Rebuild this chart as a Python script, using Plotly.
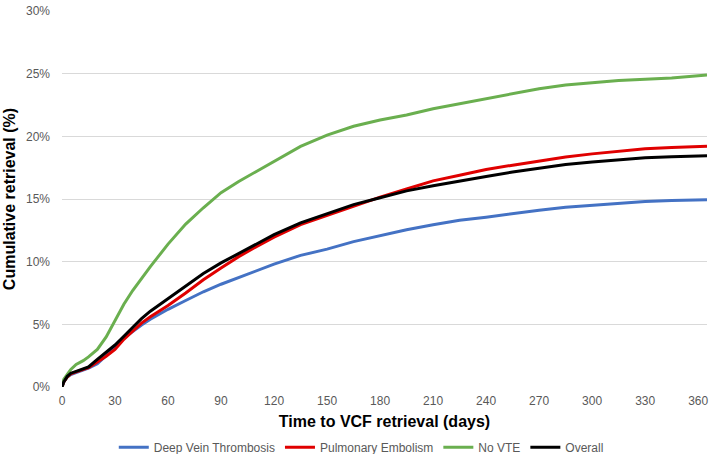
import plotly.graph_objects as go

# Days since VCF placement
days = [0, 1, 3, 5, 8, 12, 15, 20, 25, 30, 35, 40, 45, 50, 55, 60, 70, 80, 90,
        100, 110, 120, 135, 150, 165, 180, 195, 210, 225, 240, 255, 270, 285,
        300, 315, 330, 345, 365]

# Cumulative retrieval (%) per group
dvt = [0, 0.4, 0.8, 1.0, 1.15, 1.35, 1.5, 1.85, 2.5, 3.15, 3.9, 4.45, 4.95, 5.4,
       5.8, 6.2, 6.9, 7.6, 8.2, 8.75, 9.3, 9.8, 10.5, 11.0, 11.6, 12.1, 12.55,
       12.95, 13.3, 13.55, 13.85, 14.1, 14.35, 14.5, 14.65, 14.8, 14.88, 14.95]
pe = [0, 0.4, 0.8, 1.05, 1.2, 1.4, 1.55, 2.0, 2.45, 3.0, 3.8, 4.45, 5.1, 5.6,
      6.05, 6.5, 7.5, 8.55, 9.5, 10.4, 11.2, 11.95, 12.95, 13.7, 14.4, 15.15,
      15.8, 16.45, 16.9, 17.35, 17.7, 18.05, 18.35, 18.6, 18.8, 19.0, 19.1, 19.2]
no_vte = [0, 0.6, 1.0, 1.4, 1.8, 2.1, 2.4, 3.0, 4.0, 5.3, 6.6, 7.7, 8.7, 9.6,
          10.5, 11.4, 13.0, 14.3, 15.5, 16.4, 17.2, 18.0, 19.2, 20.1, 20.8, 21.3,
          21.7, 22.2, 22.6, 23.05, 23.4, 23.8, 24.1, 24.3, 24.45, 24.55, 24.65, 24.9]
overall = [0, 0.4, 0.85, 1.1, 1.25, 1.45, 1.6, 2.2, 2.8, 3.35, 4.05, 4.75, 5.45,
           6.05, 6.55, 7.1, 8.1, 9.05, 9.9, 10.65, 11.4, 12.15, 13.1, 13.85,
           14.55, 15.1, 15.65, 16.05, 16.45, 16.8, 17.15, 17.45, 17.75, 17.95,
           18.15, 18.3, 18.38, 18.45]

series_names = ["Deep Vein Thrombosis", "Pulmonary Embolism", "No VTE", "Overall"]
series_values = [dvt, pe, no_vte, overall]
series_colors = ["#4472C4", "#E00000", "#6AAF4F", "#000000"]

x_ticks = [0, 30, 60, 90, 120, 150, 180, 210, 240, 270, 300, 330, 360]
y_ticks = [0, 5, 10, 15, 20, 25, 30]
y_tick_labels = ["0%", "5%", "10%", "15%", "20%", "25%", "30%"]

FONT = "Liberation Sans, Arial, sans-serif"

fig = go.Figure()
for name, vals, col in zip(series_names, series_values, series_colors):
    fig.add_trace(go.Scatter(x=days, y=vals, mode="lines", name=name,
                             line=dict(color=col, width=3)))

fig.update_layout(
    width=709, height=454,
    margin=dict(l=62, r=2, t=11, b=67, autoexpand=False),
    paper_bgcolor="white", plot_bgcolor="white",
    font=dict(family=FONT, size=12, color="#595959"),
    showlegend=True,
    legend=dict(orientation="h", x=0.464, xanchor="center", y=-0.16,
                yanchor="middle", font=dict(size=12, color="#595959"),
                bgcolor="rgba(0,0,0,0)", itemwidth=30, tracegroupgap=0),
    xaxis=dict(range=[0, 365], tickvals=x_ticks, showgrid=False, zeroline=False,
               showline=False, ticks="", ticklabelstandoff=5,
               tickfont=dict(size=12, color="#595959"),
               title=dict(text="<b>Time to VCF retrieval (days)</b>",
                          font=dict(size=16, color="#000000"), standoff=8),
               automargin=False),
    yaxis=dict(range=[0, 30], tickvals=y_ticks, ticktext=y_tick_labels,
               showgrid=True, gridcolor="#D9D9D9", gridwidth=1, zeroline=False,
               showline=False, ticks="", ticklabelstandoff=11,
               tickfont=dict(size=12, color="#595959"),
               title=dict(text="<b>Cumulative retrieval (%)</b>",
                          font=dict(size=16, color="#000000"), standoff=6),
               automargin=False),
)

fig.write_html("out.html", config={"displayModeBar": False},
               post_script="document.body.style.margin='0';document.body.style.overflow='hidden';")
